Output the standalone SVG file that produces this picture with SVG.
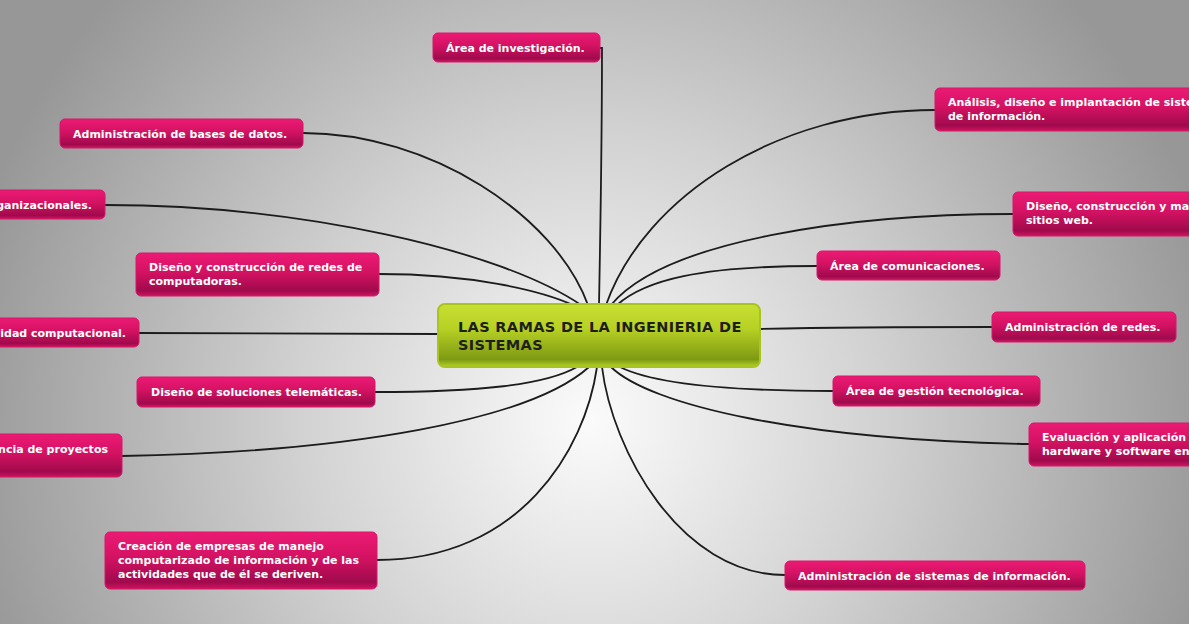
<svg xmlns="http://www.w3.org/2000/svg" width="1189" height="624" viewBox="0 0 1189 624">
<defs>
<radialGradient id="bg" gradientUnits="userSpaceOnUse" cx="590" cy="420" r="640">
<stop offset="0" stop-color="#fbfbfb"/>
<stop offset="0.45" stop-color="#d2d2d2"/>
<stop offset="1" stop-color="#979797"/>
</radialGradient>
<linearGradient id="pink" x1="0" y1="0" x2="0" y2="1">
<stop offset="0" stop-color="#ec1a74"/>
<stop offset="0.45" stop-color="#d31262"/>
<stop offset="0.88" stop-color="#a00a4c"/>
<stop offset="1" stop-color="#d0145f"/>
</linearGradient>
<linearGradient id="green" x1="0" y1="0" x2="0" y2="1">
<stop offset="0" stop-color="#c9e032"/>
<stop offset="0.4" stop-color="#b6d024"/>
<stop offset="0.88" stop-color="#7e9a12"/>
<stop offset="1" stop-color="#b4d228"/>
</linearGradient>
</defs>
<style>
.n rect{fill:url(#pink);stroke:#d8166a;stroke-width:1}
.n text{font-family:"DejaVu Sans",Verdana,sans-serif;font-size:11px;font-weight:bold;fill:#fff}
.c path{fill:none;stroke:#1c1c1c;stroke-width:1.8;stroke-linecap:round}
.main rect{fill:url(#green);stroke:#a9c41e;stroke-width:2}
.main text{font-family:"DejaVu Sans",Verdana,sans-serif;font-size:14.5px;font-weight:bold;letter-spacing:0.35px;fill:#1e1e1e}
</style>
<rect width="1189" height="624" fill="url(#bg)"/>
<g id="connectors" class="c">
<path d="M303,133 C430,133 555,215 588,305"/>
<path d="M105,205 C300,205 500,250 581,305"/>
<path d="M379,274 C470,274 540,290 573,305"/>
<path d="M600,48 L602,48 C602,150 600,250 599,305"/>
<path d="M139,333 L438,334"/>
<path d="M935,110 C780,110 645,195 606,305"/>
<path d="M1013,214 C850,214 665,240 611,305"/>
<path d="M817,266 C700,266 645,280 617,305"/>
<path d="M992,327 C900,327 850,327 760,329"/>
<path d="M375,392 C480,392 545,385 577,367"/>
<path d="M122,456 C350,452 530,420 589,367"/>
<path d="M377,560 C520,560 585,450 597,367"/>
<path d="M833,391 C720,391 650,382 620,367"/>
<path d="M1029,444 C800,440 650,405 611,367"/>
<path d="M785,575 C680,575 612,450 602,367"/>
</g>
<g id="center" class="main">
<rect x="438" y="304" width="322" height="63" rx="7"/>
<text x="458" y="332">LAS RAMAS DE LA INGENIERIA DE</text>
<text x="458" y="350">SISTEMAS</text>
</g>
<g id="n1" class="n"><rect x="433" y="33" width="167" height="29" rx="5"/><text x="446" y="52">Área de investigación.</text></g>
<g id="n2" class="n"><rect x="60" y="119" width="243" height="29" rx="5"/><text x="73" y="138">Administración de bases de datos.</text></g>
<g id="n3" class="n"><rect x="-20" y="190" width="125" height="29" rx="5"/><text x="92" y="209" text-anchor="end">ganizacionales.</text></g>
<g id="n4" class="n"><rect x="136" y="253" width="243" height="43" rx="5"/><text x="149" y="271">Diseño y construcción de redes de</text><text x="149" y="285">computadoras.</text></g>
<g id="n5" class="n"><rect x="-20" y="318" width="159" height="29" rx="5"/><text x="126" y="337" text-anchor="end">idad computacional.</text></g>
<g id="n6" class="n"><rect x="137" y="377" width="238" height="30" rx="5"/><text x="151" y="396">Diseño de soluciones telemáticas.</text></g>
<g id="n7" class="n"><rect x="-20" y="434" width="142" height="43" rx="5"/><text x="108" y="453" text-anchor="end">ncia de proyectos</text></g>
<g id="n8" class="n"><rect x="105" y="532" width="272" height="57" rx="5"/><text x="118" y="550">Creación de empresas de manejo</text><text x="118" y="564">computarizado de información y de las</text><text x="118" y="578">actividades que de él se deriven.</text></g>
<g id="n9" class="n"><rect x="935" y="88" width="270" height="43" rx="5"/><text x="948" y="106">Análisis, diseño e implantación de siste</text><text x="948" y="120">de información.</text></g>
<g id="n10" class="n"><rect x="1013" y="192" width="190" height="44" rx="5"/><text x="1026" y="210">Diseño, construcción y ma</text><text x="1026" y="224">sitios web.</text></g>
<g id="n11" class="n"><rect x="817" y="251" width="183" height="29" rx="5"/><text x="830" y="270">Área de comunicaciones.</text></g>
<g id="n12" class="n"><rect x="992" y="312" width="184" height="30" rx="5"/><text x="1005" y="331">Administración de redes.</text></g>
<g id="n13" class="n"><rect x="833" y="376" width="207" height="30" rx="5"/><text x="846" y="395">Área de gestión tecnológica.</text></g>
<g id="n14" class="n"><rect x="1029" y="423" width="180" height="43" rx="5"/><text x="1042" y="441">Evaluación y aplicación</text><text x="1042" y="455">hardware y software en</text></g>
<g id="n15" class="n"><rect x="785" y="561" width="300" height="29" rx="5"/><text x="798" y="580">Administración de sistemas de información.</text></g>
</svg>
